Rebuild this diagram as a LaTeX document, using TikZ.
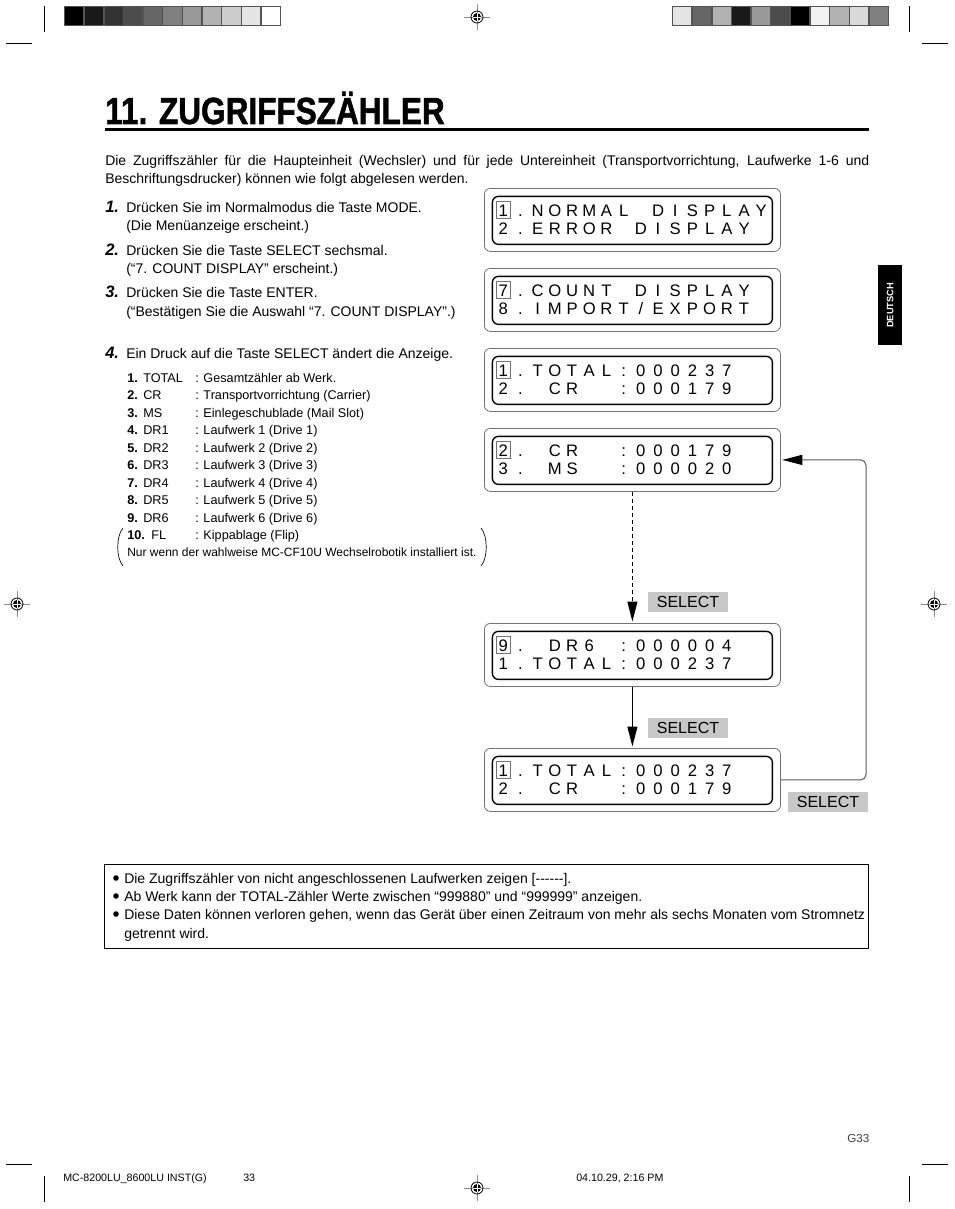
\documentclass[tikz,border=0pt]{standalone}
\usepackage{fontspec}
\usepackage{graphicx}
\setmainfont{Liberation Sans}
\newfontfamily\heavyfont{Liberation Sans}[BoldFeatures={FakeBold=1.5}]
\usetikzlibrary{arrows.meta,calc}
\definecolor{selgray}{gray}{0.78}
\definecolor{boxgray}{gray}{0.45}
\newcommand\lcdunit{12.9pt}
\def\lcdrow#1{\lcdloop#1\relax}
\def\lcdloop#1{\ifx#1\relax\else\ifx#1*\hbox to \lcdunit{\hss}\else\hbox to \lcdunit{\hss#1\hss}\fi\expandafter\lcdloop\fi}
\tikzset{
 lcdout/.style={draw=boxgray, line width=0.6pt, rounded corners=4.5pt, minimum width=222pt, minimum height=47.25pt, inner sep=0pt, anchor=north west},
 lcdin/.style={draw=black, line width=1pt, rounded corners=4.5pt, minimum width=210pt, minimum height=36pt, inner sep=0pt},
 lcdtxt/.style={font=\fontsize{12.5pt}{12.5pt}\selectfont, inner sep=0pt, anchor=base west},
 cursorbox/.style={draw=boxgray, line width=0.7pt, minimum width=10.5pt, minimum height=13pt, inner sep=0pt},
 selbox/.style={fill=selgray, minimum width=60pt, minimum height=15pt, inner sep=0pt, font=\fontsize{12pt}{12pt}\selectfont},
 body/.style={font=\fontsize{10.5pt}{13.5pt}\selectfont, inner sep=0pt, anchor=base west},
 listtxt/.style={font=\fontsize{9.5pt}{12pt}\selectfont, inner sep=0pt, anchor=base west},
 listnum/.style={font=\fontsize{9.5pt}{12pt}\selectfont\bfseries, inner sep=0pt, anchor=base west},
 stepnum/.style={font=\fontsize{12.4pt}{13pt}\selectfont\bfseries\itshape, inner sep=0pt, anchor=base west},
 flowarrow/.style={-{Triangle[length=15pt,width=7.5pt]}, line width=0.75pt},
 cropline/.style={line width=0.75pt},
 footer/.style={font=\fontsize{8pt}{8pt}\selectfont, inner sep=0pt, anchor=base west},
}
\newcommand\lcd[4]{%
 \node[lcdout] (#1) at (484,#2) {};
 \node[lcdin] (#1in) at ($(#1.center)+(0,0.5)$) {};
 \node[lcdtxt] (#1ra) at (494.4,{#2+28}) {\lcdrow{#3}};
 \node[lcdtxt] (#1rb) at (494.4,{#2+46}) {\lcdrow{#4}};
 \node[cursorbox] (#1cur) at (503,{#2+22}) {};
}
\newcommand\regmark[2]{%
 \draw[black!45, line width=0.5pt] ({#1-13},#2) -- ({#1+13},#2) (#1,{#2-13}) -- (#1,{#2+13});
 \draw[line width=0.6pt] (#1,#2) circle[radius=4.5pt];
 \fill (#1,#2) circle[radius=3pt];
 \draw[white, line width=0.5pt] ({#1-4},#2) -- ({#1+4},#2) (#1,{#2-4}) -- (#1,{#2+4});
}
\begin{document}
\begin{tikzpicture}[x=0.75pt,y=-0.75pt]
\useasboundingbox (0,0) rectangle (954,1209);
\fill[white] (0,0) rectangle (954,1209);
% colour bars
\foreach \p [count=\i from 0] in {100,90,80,70,60,50,40,30,20,10,0}
  \draw[draw=black!67, line width=1.1pt, fill=black!\p] ({64.5+\i*19.64},6.5) rectangle ++(19.64,19);
\foreach \p [count=\i from 0] in {10,60,30,90,40,70,100,5,30,15,50}
  \draw[draw=black!67, line width=1.1pt, fill=black!\p] ({672.5+\i*19.64},6.5) rectangle ++(19.64,19);
% crop marks
\draw[cropline] (44,6) -- (44,32) (6,44) -- (32,44);
\draw[cropline] (909,6) -- (909,32) (922,44) -- (948,44);
\draw[cropline] (6,1164) -- (32,1164) (44,1176) -- (44,1202);
\draw[cropline] (922,1164) -- (948,1164) (909,1176) -- (909,1202);
\regmark{477}{17}
\regmark{477}{1188}
\regmark{17}{604}
\regmark{934}{604}
% title
\node[inner sep=0pt, anchor=base west] (title) at (105,124) {\heavyfont\bfseries\fontsize{28.3pt}{30pt}\selectfont\scalebox{0.836}[1]{11. ZUGRIFFSZÄHLER}};
\draw[line width=2.25pt] (105,130) -- (869,130);
% intro
\node[body] (intro1) at (105,166) {\makebox[573pt][s]{Die Zugriffszähler für die Haupteinheit (Wechsler) und für jede Untereinheit (Transportvorrichtung, Laufwerke 1-6 und}};
\node[body] (intro2) at (105,184) {Beschriftungsdrucker) können wie folgt abgelesen werden.};
% steps
\node[stepnum] (s1n) at (105,212.5) {1.};
\node[body] (s1a) at (126,212.5) {Drücken Sie im Normalmodus die Taste MODE.};
\node[body] (s1b) at (126,230) {(Die Menüanzeige erscheint.)};
\node[stepnum] (s2n) at (105,255.5) {2.};
\node[body] (s2a) at (126,255.5) {Drücken Sie die Taste SELECT sechsmal.};
\node[body] (s2b) at (126,273.5) {(“7. COUNT DISPLAY” erscheint.)};
\node[stepnum] (s3n) at (105,297.5) {3.};
\node[body] (s3a) at (126,297.5) {Drücken Sie die Taste ENTER.};
\node[body] (s3b) at (126,316) {(“Bestätigen Sie die Auswahl “7. COUNT DISPLAY”.)};
\node[stepnum] (s4n) at (105,358.5) {4.};
\node[body] (s4a) at (126,358.5) {Ein Druck auf die Taste SELECT ändert die Anzeige.};
% list
\foreach \n/\k/\d [count=\i from 0] in {{1.}/{TOTAL}/{Gesamtzähler ab Werk.},{2.}/{CR}/{Transportvorrichtung (Carrier)},{3.}/{MS}/{Einlegeschublade (Mail Slot)},{4.}/{DR1}/{Laufwerk 1 (Drive 1)},{5.}/{DR2}/{Laufwerk 2 (Drive 2)},{6.}/{DR3}/{Laufwerk 3 (Drive 3)},{7.}/{DR4}/{Laufwerk 4 (Drive 4)},{8.}/{DR5}/{Laufwerk 5 (Drive 5)},{9.}/{DR6}/{Laufwerk 6 (Drive 6)}}{
  \node[listnum] (ln\i) at (127,{382.5+\i*17.44}) {\n};
  \node[listtxt] (lk\i) at (143,{382.5+\i*17.44}) {\k};
  \node[listtxt] (ld\i) at (195,{382.5+\i*17.44}) {: \d};
}
\node[listnum] (ln9) at (127,539.5) {10.};
\node[listtxt] (lk9) at (151,539.5) {FL};
\node[listtxt] (ld9) at (195,539.5) {: Kippablage (Flip)};
\node[inner sep=0pt, anchor=base west, font=\fontsize{9pt}{11pt}\selectfont] (lnote) at (127,556) {Nur wenn der wahlweise MC-CF10U Wechselrobotik installiert ist.};
\draw[line width=0.5pt] (123,528) .. controls (116,536) and (116,558) .. (123,566);
\draw[line width=0.5pt] (481,528) .. controls (488,536) and (488,558) .. (481,566);
% LCD displays
\lcd{b1}{188}{1.NORMAL*DISPLAY}{2.ERROR*DISPLAY}
\lcd{b2}{268}{7.COUNT*DISPLAY}{8.IMPORT/EXPORT}
\lcd{b3}{348}{1.TOTAL:000237}{2.*CR**:000179}
\lcd{b4}{428}{2.*CR**:000179}{3.*MS**:000020}
\lcd{b5}{623}{9.*DR6*:000004}{1.TOTAL:000237}
\lcd{b6}{748}{1.TOTAL:000237}{2.*CR**:000179}
% arrows
\draw[flowarrow, dash pattern=on 3pt off 2.25pt] (b4.south) -- ($(b5.north)+(0,-1.5)$);
\draw[flowarrow] (b5.south) -- ($(b6.north)+(0,-1.5)$);
\coordinate (rx) at (866,0);
\draw[black!65, line width=0.75pt, rounded corners=4pt, -{Triangle[length=15pt,width=7.5pt,color=black]}] (b6.east) -| (b4.east -| rx) -- ($(b4.east)+(1.5,0)$);
\node[selbox] (sel1) at (688,601.5) {SELECT};
\node[selbox] (sel2) at (688,728) {SELECT};
\node[selbox] (sel3) at (828,801.5) {SELECT};
% tab
\node[fill=black, minimum width=18pt, minimum height=60pt, inner sep=0pt, anchor=north west] (tab) at (878,265) {};
\node[rotate=90, text=white, inner sep=0pt, font=\bfseries\fontsize{7pt}{7pt}\selectfont] (tabtxt) at (tab.center) {DEUTSCH};
% note box
\node[draw, line width=0.75pt, minimum width=573pt, minimum height=63pt, inner sep=0pt, anchor=north west] (notebox) at (104,864) {};
\foreach \yy in {878,896,914} \fill (116,\yy) circle[radius=2.1pt];
\node[body] (n1) at (124,883) {Die Zugriffszähler von nicht angeschlossenen Laufwerken zeigen [-\kern0pt-\kern0pt-\kern0pt-\kern0pt-\kern0pt-].};
\node[body] (n2) at (124,901) {Ab Werk kann der TOTAL-Zähler Werte zwischen “999880” und “999999” anzeigen.};
\node[body] (n3) at (124,919) {Diese Daten können verloren gehen, wenn das Gerät über einen Zeitraum von mehr als sechs Monaten vom Stromnetz};
\node[body] (n4) at (124,938) {getrennt wird.};
% footer
\node[inner sep=0pt, anchor=base west, text=black!75, font=\fontsize{8.7pt}{9pt}\selectfont] (pg) at (847,1142) {G33};
\node[footer] (f1) at (63,1181) {MC-8200LU\_8600LU INST(G)};
\node[footer] (f2) at (243,1181) {33};
\node[footer] (f3) at (576,1181) {04.10.29, 2:16 PM};
\end{tikzpicture}
\end{document}
